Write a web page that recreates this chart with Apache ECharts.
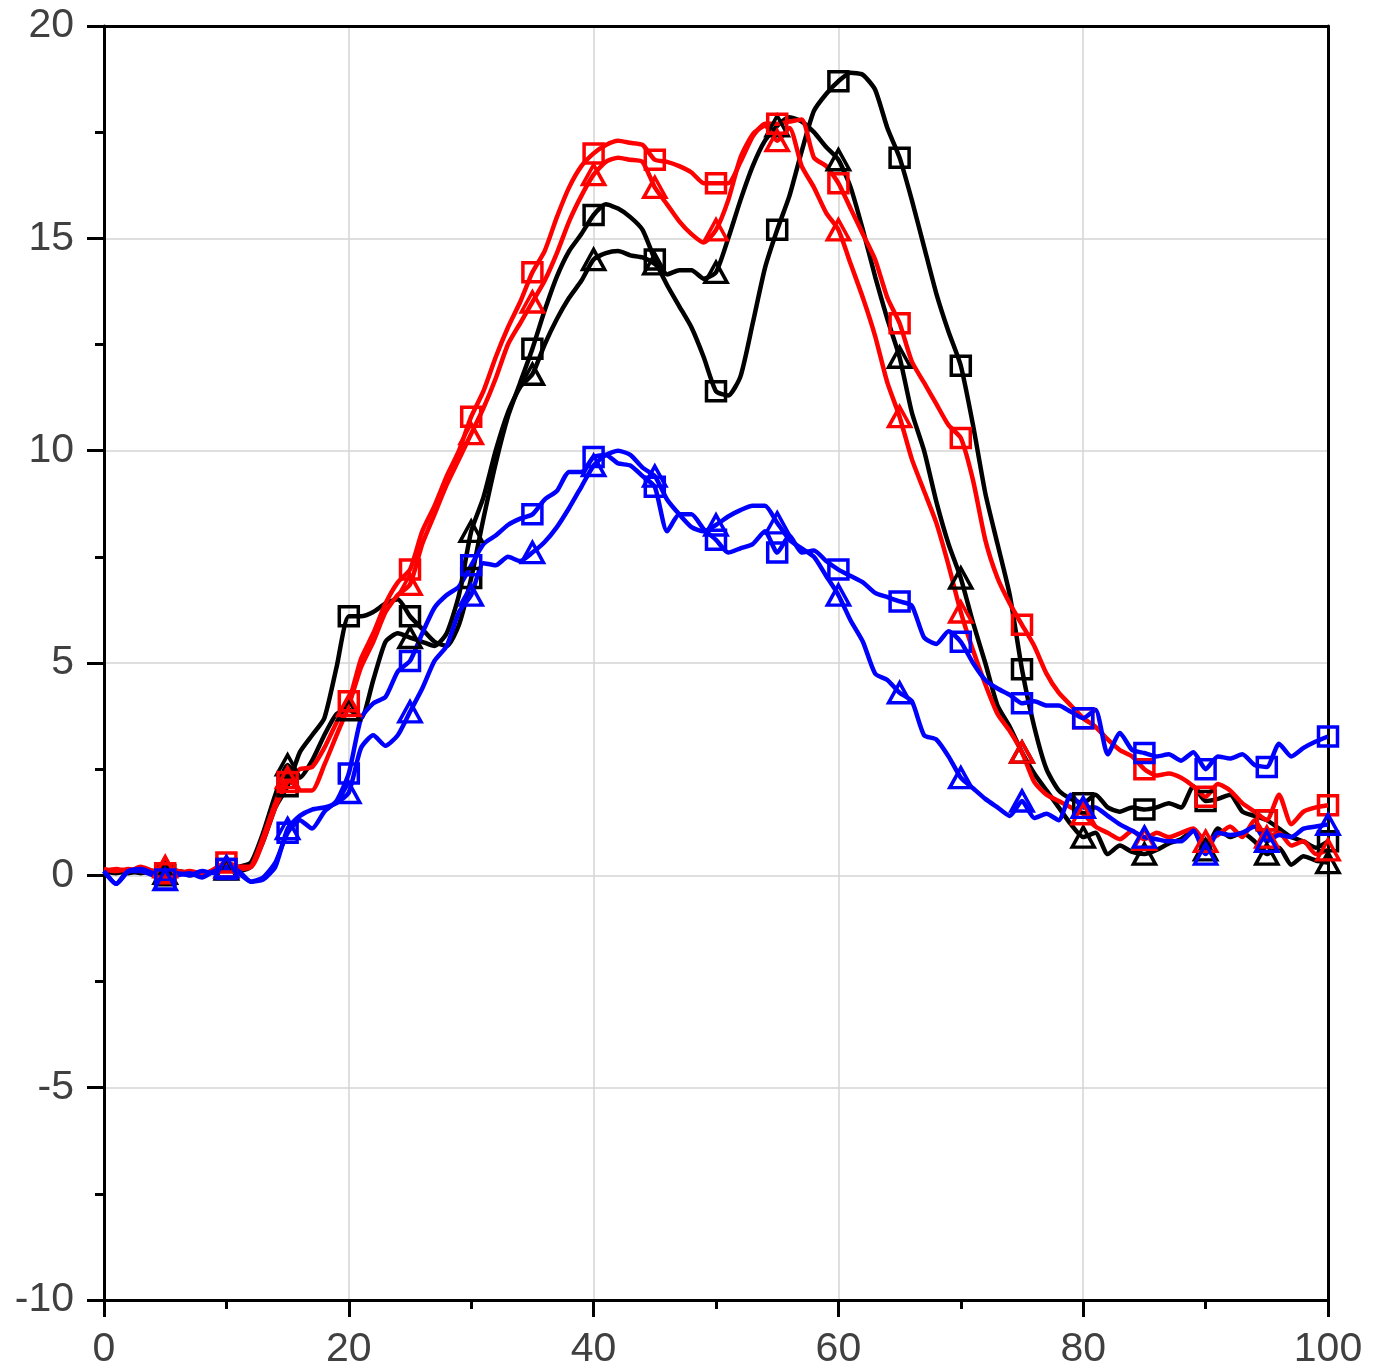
<!DOCTYPE html>
<html>
<head>
<meta charset="utf-8">
<title>chart</title>
<script src="https://cdn.jsdelivr.net/npm/echarts@6/dist/echarts.min.js"></script>
<style>
  html, body { margin: 0; padding: 0; background: #fff; }
  #chart { width: 1384px; height: 1372px; }
</style>
</head>
<body>
<div id="chart"></div>
<script>
  // sample positions, one reading per unit on x
  const xValues = []
  for (let i = 0; i <= 100; i++) xValues.push(i)

  const xTicks = [0, 20, 40, 60, 80, 100]
  const yTicks = [-10, -5, 0, 5, 10, 15, 20]

  const blackSquare = [
    0.1, 0.05, 0.1, 0.05, 0.1, 0.0, 0.1, 0.05, 0.0, 0.1,
    0.15, 0.1, 0.2, 0.8, 1.6, 2.1, 2.9, 3.3, 3.7, 4.9,
    6.1, 6.1, 6.2, 6.4, 6.5, 6.1, 5.8, 5.5, 5.4, 5.9,
    7.0, 8.4, 9.7, 10.8, 11.6, 12.4, 13.3, 14.1, 14.7, 15.1,
    15.55, 15.8, 15.7, 15.5, 15.2, 14.5, 13.9, 13.4, 12.9, 12.2,
    11.4, 11.3, 11.75, 13.0, 14.3, 15.2, 16.0, 17.05, 18.0, 18.4,
    18.7, 18.9, 18.85, 18.5, 17.6, 16.9, 15.9, 14.8, 13.7, 12.8,
    12.0, 10.6, 9.0, 7.8, 6.6, 4.85, 3.5, 2.5, 2.0, 1.8,
    1.7, 1.9, 1.6, 1.5, 1.6, 1.55, 1.6, 1.7, 1.6, 2.1,
    1.75, 1.8, 1.9, 1.5, 1.4, 1.3, 1.1, 0.9, 0.8, 0.65,
    0.8
  ]
  const blackTriangle = [
    0.1, 0.1, 0.05, 0.1, 0.1, 0.05, 0.1, 0.0, 0.05, 0.1,
    0.15, 0.2, 0.3, 1.0, 1.9, 2.6, 2.3, 2.7, 3.3, 3.8,
    3.9, 3.7, 4.6, 5.5, 5.7, 5.6, 5.5, 5.4, 5.7, 6.6,
    8.1, 8.9, 10.0, 10.9, 11.5, 11.8, 12.5, 13.1, 13.6, 14.0,
    14.5, 14.65, 14.7, 14.6, 14.55, 14.4, 14.15, 14.25, 14.25, 14.05,
    14.2, 15.0, 15.9, 16.7, 17.3, 17.65, 17.85, 17.75, 17.5, 17.15,
    16.85, 16.2, 15.2, 14.1, 13.1, 12.2, 10.9, 10.0, 8.8, 7.8,
    7.0, 5.95, 5.0, 4.0, 3.5, 2.9, 2.4, 2.0, 1.6, 1.2,
    0.9, 1.0, 0.5, 0.7, 0.55, 0.5, 0.6, 0.75, 0.85, 1.05,
    0.6, 1.1, 0.9, 1.0, 0.8, 0.5, 0.65, 0.25, 0.45, 0.35,
    0.3
  ]
  const redSquare = [
    0.1, 0.15, 0.1, 0.2, 0.1, 0.05, 0.1, 0.05, 0.0, 0.15,
    0.3, 0.2, 0.2, 0.8, 1.6, 2.2, 2.5, 2.55, 3.0, 3.6,
    4.1, 5.1, 5.7, 6.4, 6.9, 7.2, 8.1, 8.7, 9.4, 10.0,
    10.8, 11.4, 12.2, 12.9, 13.5, 14.2, 14.7, 15.5, 16.2, 16.7,
    17.0, 17.2, 17.3, 17.25, 17.2, 16.85, 16.8, 16.7, 16.55, 16.3,
    16.3, 16.3, 16.8, 17.4, 17.7, 17.7, 17.75, 17.8, 16.9, 16.7,
    16.3, 15.7, 15.1, 14.5, 13.6, 13.0, 12.1, 11.6, 11.1, 10.6,
    10.3, 9.3, 7.9, 7.0, 6.4, 5.9, 5.4, 4.75, 4.3, 4.0,
    3.7, 3.5, 3.2, 2.95, 2.8, 2.5, 2.35, 2.4, 2.3, 2.1,
    1.85, 2.15, 2.0, 1.7, 1.5, 1.3, 1.9, 1.2, 1.5, 1.6,
    1.65
  ]
  const redTriangle = [
    0.15, 0.1, 0.15, 0.1, 0.05, 0.2, 0.05, 0.1, 0.05, 0.1,
    0.2, 0.15, 0.2, 0.9, 1.7, 2.3, 2.0, 2.0, 2.6, 3.3,
    4.0, 4.9, 5.5, 6.2, 6.6, 6.85, 7.8, 8.5, 9.2, 9.8,
    10.4, 11.0, 11.7, 12.5, 13.0, 13.5, 14.0, 14.65, 15.4, 16.0,
    16.5, 16.8, 16.9, 16.85, 16.8, 16.2, 15.8, 15.4, 15.1, 14.9,
    15.2, 15.9, 16.9, 17.45, 17.65, 17.3, 17.6, 16.7, 16.2, 15.6,
    15.2, 14.4, 13.6, 12.7, 11.6, 10.8, 9.8, 9.05, 8.3, 7.3,
    6.2, 5.3, 4.5, 3.8, 3.4, 2.9, 2.2, 1.9, 1.75, 1.6,
    1.45, 1.15, 1.0, 0.85, 1.05, 0.85, 1.0, 0.9, 1.0, 1.1,
    0.8, 0.95, 1.15, 0.9, 1.3, 0.9, 1.0, 0.7, 0.8, 0.5,
    0.6
  ]
  const blueSquare = [
    0.1, -0.2, 0.1, 0.15, 0.05, -0.1, 0.0, 0.05, -0.05, 0.1,
    0.15, 0.05, -0.15, -0.05, 0.3, 1.0, 1.3, 1.1, 1.5, 1.75,
    2.4, 3.7, 4.05, 4.2, 4.8, 5.05, 5.7, 6.3, 6.6, 6.8,
    7.3, 7.8, 8.0, 8.25, 8.4, 8.5, 8.85, 9.05, 9.5, 9.5,
    9.85, 9.9, 9.7, 9.65, 9.4, 9.15, 8.1, 8.5, 8.5, 8.15,
    7.9, 7.6, 7.7, 7.8, 8.1, 7.6, 8.0, 7.6, 7.65, 7.4,
    7.2, 7.05, 6.9, 6.65, 6.55, 6.45, 6.35, 5.6, 5.45, 5.75,
    5.5, 5.0, 4.6, 4.4, 4.25, 4.05, 4.1, 4.0, 4.0, 3.85,
    3.7, 3.9, 2.85, 3.35, 2.95, 2.88, 2.8, 2.85, 2.7, 2.9,
    2.5, 2.8, 2.75, 2.85, 2.6, 2.55, 3.1, 2.8, 3.0, 3.15,
    3.27
  ]
  const blueTriangle = [
    0.1, -0.2, 0.1, 0.1, 0.0, -0.1, 0.05, 0.0, 0.1, 0.05,
    0.2, 0.1, -0.15, -0.1, 0.2, 1.1, 1.4, 1.55, 1.6, 1.7,
    1.95, 3.0, 3.3, 3.05, 3.3, 3.85, 4.4, 5.05, 5.4, 6.2,
    6.6, 7.35, 7.3, 7.5, 7.4, 7.6, 7.85, 8.2, 8.65, 9.15,
    9.65, 9.9, 10.0, 9.9, 9.6, 9.4, 8.85, 8.5, 8.2, 8.1,
    8.25, 8.45, 8.6, 8.7, 8.7, 8.3, 7.9, 7.7, 7.5, 7.05,
    6.6, 6.0, 5.5, 4.75, 4.6, 4.3, 4.1, 3.3, 3.2, 2.8,
    2.3, 2.05, 1.8, 1.6, 1.4, 1.75, 1.35, 1.45, 1.3, 1.9,
    1.6, 1.6, 1.4, 1.2, 1.05, 0.9, 0.85, 0.8, 0.8, 1.05,
    0.5, 1.0, 0.95, 1.0, 1.15, 0.8, 0.95, 0.9, 1.1, 1.15,
    1.2
  ]

  const textColor = '#404040'
  const fontFamily = 'Arial, "Liberation Sans", sans-serif'

  function pairs(values) {
    return xValues.map((x, i) => [x, values[i]])
  }
  // symbols sit on every 5th reading
  function markerPairs(values) {
    return xValues.filter(x => x > 0 && x % 5 === 0).map(x => [x, values[x]])
  }

  const lines = [
    { name: 'black square', values: blackSquare, color: '#000000', symbol: 'rect' },
    { name: 'black triangle', values: blackTriangle, color: '#000000', symbol: 'triangle' },
    { name: 'red square', values: redSquare, color: '#ff0000', symbol: 'rect' },
    { name: 'red triangle', values: redTriangle, color: '#ff0000', symbol: 'triangle' },
    { name: 'blue square', values: blueSquare, color: '#0000ff', symbol: 'rect' },
    { name: 'blue triangle', values: blueTriangle, color: '#0000ff', symbol: 'triangle' }
  ]

  const series = []
  lines.forEach(l => {
    series.push({
      name: l.name,
      type: 'line',
      data: pairs(l.values),
      symbol: 'none',
      smooth: 0.2,
      lineStyle: { color: l.color, width: 4.5 },
      z: 2
    })
    series.push({
      name: l.name + ' marks',
      type: 'scatter',
      data: markerPairs(l.values),
      symbol: l.symbol,
      symbolSize: l.symbol === 'rect' ? 19 : [22, 20],
      clip: false,
      itemStyle: { color: 'rgba(255,255,255,0)', borderColor: l.color, borderWidth: 3.5, opacity: 1 },
      z: 3
    })
  })

  const chart = echarts.init(document.getElementById('chart'))
  chart.setOption({
    animation: false,
    backgroundColor: '#ffffff',
    grid: { left: 104, right: 56, top: 26, bottom: 72 },
    xAxis: [{
      type: 'value',
      min: xTicks[0],
      max: xTicks[xTicks.length - 1],
      interval: 20,
      position: 'bottom',
      axisLine: { onZero: false, lineStyle: { color: '#000', width: 3 } },
      axisTick: { inside: false, length: 17, lineStyle: { color: '#000', width: 3 } },
      minorTick: { show: true, splitNumber: 2, length: 9, lineStyle: { color: '#000', width: 3 } },
      splitLine: { show: true, lineStyle: { color: '#d4d4d4', width: 1.5 } },
      axisLabel: { fontSize: 41, color: textColor, fontFamily: fontFamily, margin: 29 }
    }, {
      type: 'value',
      min: xTicks[0],
      max: xTicks[xTicks.length - 1],
      position: 'top',
      axisLine: { onZero: false, lineStyle: { color: '#000', width: 3 } },
      axisTick: { show: false },
      splitLine: { show: false },
      axisLabel: { show: false }
    }],
    yAxis: [{
      type: 'value',
      min: yTicks[0],
      max: yTicks[yTicks.length - 1],
      interval: 5,
      position: 'left',
      axisLine: { show: true, onZero: false, lineStyle: { color: '#000', width: 3 } },
      axisTick: { show: true, inside: false, length: 17, lineStyle: { color: '#000', width: 3 } },
      minorTick: { show: true, splitNumber: 2, length: 9, lineStyle: { color: '#000', width: 3 } },
      splitLine: { show: true, lineStyle: { color: '#d4d4d4', width: 1.5 } },
      axisLabel: { fontSize: 41, color: textColor, fontFamily: fontFamily, margin: 30 }
    }, {
      type: 'value',
      min: yTicks[0],
      max: yTicks[yTicks.length - 1],
      position: 'right',
      axisLine: { show: true, onZero: false, lineStyle: { color: '#000', width: 3 } },
      axisTick: { show: false },
      splitLine: { show: false },
      axisLabel: { show: false }
    }],
    series: series
  })
</script>
</body>
</html>
